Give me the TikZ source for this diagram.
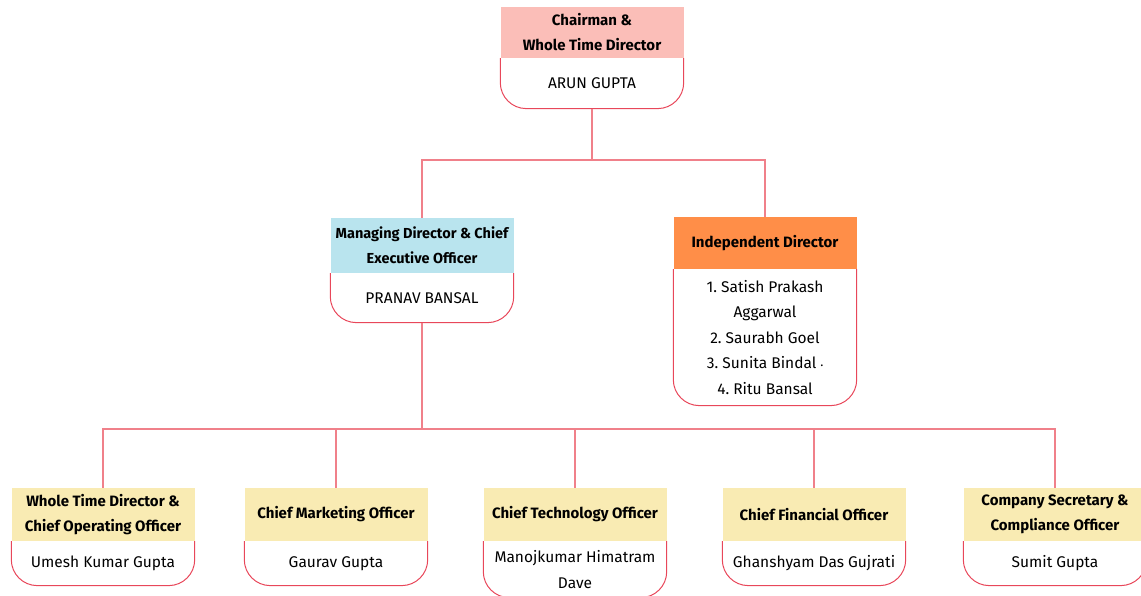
\documentclass[tikz,border=0pt]{standalone}
\usepackage{fontspec}
\setmainfont{Fira Sans}
\frenchspacing
\usetikzlibrary{positioning}

\definecolor{headpink}{HTML}{FBBEB8}
\definecolor{headblue}{HTML}{B9E4EE}
\definecolor{headorange}{HTML}{FF8E48}
\definecolor{headyellow}{HTML}{F9EBB3}
\definecolor{rimred}{HTML}{E8475A}
\definecolor{linkred}{HTML}{F0808A}

\begin{document}
\begin{tikzpicture}[x=1pt, y=-1pt,
    head/.style={fill=#1, minimum width=183pt, inner xsep=0pt, inner ysep=2pt,
        minimum height=53pt, align=center, font=\fontsize{15}{25}\selectfont\bfseries},
    body/.style={minimum width=183pt, inner xsep=0pt, inner ysep=2pt, align=center,
        font=\fontsize{15.5}{25.5}\selectfont},
    rim/.style={draw=rimred, line width=1pt, rounded corners=26pt},
    link/.style={draw=linkred, line width=1.2pt}
]
    \useasboundingbox (0,0) rectangle (1141,595);

    % Top: chairman
    \node[head=headpink, minimum height=51pt] (chairhead) at (592,32.5) {Chairman \&\\Whole Time Director};
    \node[body, minimum height=50pt, below=0pt of chairhead] (chairbody) {ARUN GUPTA};

    % Second row
    \node[head=headblue, minimum height=55pt, font=\fontsize{14.5}{25}\selectfont\bfseries] (mdhead) at (422,245.5) {Managing Director \& Chief\\Executive Officer};
    \node[body, minimum height=49pt, below=0pt of mdhead] (mdbody) {PRANAV BANSAL};

    \node[head=headorange, minimum height=52pt] (idhead) at (765,243) {Independent Director};
    \node[body, minimum height=136pt, below=0pt of idhead] (idbody) {1. Satish Prakash\\Aggarwal\\2. Saurabh Goel\\3. Sunita Bindal {\footnotesize•}\\4. Ritu Bansal};

    % Bottom row
    \node[head=headyellow] (wtdhead) at (103,514.5) {Whole Time Director \&\\Chief Operating Officer};
    \node[body, minimum height=44pt, below=0pt of wtdhead] (wtdbody) {Umesh Kumar Gupta};

    \node[head=headyellow] (cmohead) at (336,514.5) {Chief Marketing Officer};
    \node[body, minimum height=44pt, below=0pt of cmohead] (cmobody) {Gaurav Gupta};

    \node[head=headyellow] (ctohead) at (575,514.5) {Chief Technology Officer};
    \node[body, minimum height=56pt, below=0pt of ctohead] (ctobody) {Manojkumar Himatram\\Dave};

    \node[head=headyellow] (cfohead) at (814,514.5) {Chief Financial Officer};
    \node[body, minimum height=44pt, below=0pt of cfohead] (cfobody) {Ghanshyam Das Gujrati};

    \node[head=headyellow] (cshead) at (1055,514.5) {Company Secretary \&\\Compliance Officer};
    \node[body, minimum height=44pt, below=0pt of cshead] (csbody) {Sumit Gupta};

    % Rounded outlines under the headers
    \foreach \n in {chair,md,id,wtd,cmo,cto,cfo,cs}
        \draw[rim] (\n body.north west) |- (\n body.south) -| (\n body.north east);

    % Connectors
    \coordinate (topsplit) at (592,160);
    \coordinate (lowsplit) at (422,429);
    \draw[link] (chairbody.south) -- (topsplit);
    \draw[link] (topsplit) -| (mdhead.north);
    \draw[link] (topsplit) -| (idhead.north);
    \draw[link] (mdbody.south) -- (lowsplit);
    \foreach \n in {wtd,cmo,cto,cfo,cs}
        \draw[link] (lowsplit) -| (\n head.north);

\end{tikzpicture}
\end{document}
